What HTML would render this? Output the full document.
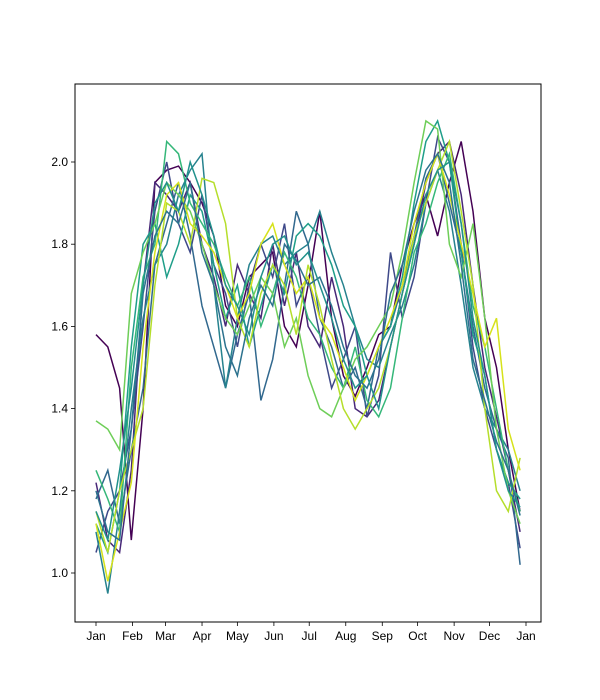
<!DOCTYPE html>
<html><head><meta charset="utf-8"><style>
html,body{margin:0;padding:0;background:#fff;}
svg{display:block;font-family:"Liberation Sans","DejaVu Sans",sans-serif;}
</style></head><body>
<svg id="chart" width="600" height="700"></svg>
<script>
const days = [0,10,20,30,40,50,60,70,80,90,100,110,120,130,140,150,160,170,180,190,200,210,220,230,240,250,260,270,280,290,300,310,320,330,340,350,360];
const monthLabels = ["Jan","Feb","Mar","Apr","May","Jun","Jul","Aug","Sep","Oct","Nov","Dec","Jan"];
const monthDays = [0,31,59,90,120,151,181,212,243,273,304,334,365];
const yTicks = [1.0,1.2,1.4,1.6,1.8,2.0];
const colors = ["#440154","#482878","#3e4989","#31688e","#26828e","#1f9e89","#35b779","#6ece58","#b5de2b","#d6e21b","#2c728e","#21918c"];
const s1 = [1.58,1.55,1.45,1.08,1.40,1.95,1.98,1.99,1.95,1.90,1.82,1.65,1.60,1.72,1.75,1.78,1.60,1.55,1.70,1.88,1.62,1.48,1.43,1.50,1.58,1.60,1.75,1.85,1.92,1.82,1.95,2.05,1.88,1.62,1.50,1.30,1.15];
const s2 = [1.22,1.08,1.05,1.25,1.70,1.95,1.92,1.88,1.95,1.80,1.72,1.60,1.75,1.68,1.62,1.80,1.65,1.78,1.60,1.55,1.72,1.60,1.40,1.38,1.42,1.55,1.68,1.80,1.95,2.02,2.05,1.92,1.70,1.50,1.38,1.25,1.10];
const s3 = [1.05,1.15,1.20,1.35,1.60,1.88,2.00,1.85,1.78,1.92,1.75,1.68,1.55,1.70,1.80,1.72,1.85,1.65,1.72,1.58,1.45,1.52,1.60,1.38,1.48,1.78,1.62,1.72,1.90,2.06,2.00,1.80,1.55,1.40,1.30,1.22,1.06];
const s4 = [1.18,1.25,1.12,1.30,1.45,1.75,1.85,1.95,1.82,1.65,1.55,1.45,1.58,1.68,1.42,1.52,1.70,1.88,1.80,1.62,1.55,1.45,1.50,1.40,1.55,1.60,1.70,1.82,1.96,2.02,1.90,1.78,1.60,1.45,1.35,1.28,1.02];
const s5 = [1.10,0.95,1.15,1.40,1.62,1.75,1.80,1.92,1.98,2.02,1.70,1.45,1.62,1.75,1.80,1.82,1.75,1.78,1.80,1.88,1.78,1.70,1.60,1.52,1.50,1.58,1.65,1.75,1.90,1.98,1.88,1.70,1.50,1.40,1.35,1.30,1.20];
const s6 = [1.12,1.05,1.20,1.55,1.80,1.85,1.72,1.80,1.92,1.88,1.75,1.62,1.70,1.55,1.65,1.75,1.68,1.82,1.85,1.82,1.75,1.65,1.60,1.48,1.55,1.60,1.72,1.90,2.05,2.10,2.00,1.78,1.58,1.48,1.30,1.22,1.18];
const s7 = [1.25,1.18,1.10,1.50,1.72,1.80,2.05,2.02,1.90,1.85,1.80,1.72,1.65,1.72,1.60,1.68,1.78,1.72,1.62,1.58,1.50,1.45,1.55,1.42,1.38,1.45,1.62,1.78,1.85,1.95,2.02,1.85,1.65,1.55,1.40,1.25,1.15];
const s8 = [1.37,1.35,1.30,1.68,1.78,1.85,1.95,1.92,1.88,1.80,1.70,1.62,1.58,1.65,1.72,1.68,1.55,1.62,1.48,1.40,1.38,1.45,1.52,1.55,1.60,1.65,1.78,1.95,2.10,2.08,1.80,1.72,1.85,1.62,1.35,1.20,1.12];
const s9 = [1.15,1.05,1.20,1.30,1.40,1.70,1.90,1.88,1.80,1.96,1.95,1.85,1.62,1.55,1.68,1.75,1.70,1.58,1.75,1.65,1.52,1.40,1.35,1.40,1.45,1.55,1.68,1.82,1.90,1.98,2.05,1.88,1.70,1.40,1.20,1.15,1.28];
const s10 = [1.12,0.98,1.10,1.22,1.55,1.78,1.92,1.95,1.85,1.82,1.78,1.70,1.62,1.68,1.80,1.85,1.75,1.68,1.72,1.62,1.58,1.50,1.42,1.48,1.55,1.62,1.70,1.85,1.95,2.02,1.92,1.80,1.68,1.55,1.62,1.35,1.25];
const s11 = [1.20,1.10,1.08,1.35,1.68,1.82,1.88,1.85,1.95,1.78,1.70,1.55,1.48,1.62,1.70,1.65,1.80,1.76,1.70,1.72,1.65,1.55,1.48,1.45,1.52,1.68,1.75,1.88,1.98,2.02,1.95,1.75,1.52,1.42,1.32,1.25,1.14];
const s12 = [1.15,1.08,1.25,1.45,1.70,1.90,1.95,1.88,2.00,1.92,1.82,1.70,1.65,1.58,1.72,1.80,1.82,1.75,1.78,1.70,1.62,1.52,1.45,1.48,1.40,1.55,1.68,1.80,1.92,1.98,2.00,1.85,1.62,1.48,1.30,1.20,1.16];
const series = [s1,s2,s3,s4,s5,s6,s7,s8,s9,s10,s11,s12];

const NS = "http://www.w3.org/2000/svg";
const svg = document.getElementById("chart");
const L=75, R=541, T=84, B=622;
function xs(d){ return 96 + d*(430/365); }
function ys(v){ return 162 + (2.0 - v)*411; }
function mk(tag, attrs){ const e=document.createElementNS(NS,tag); for(const k in attrs) e.setAttribute(k,attrs[k]); svg.appendChild(e); return e; }

const clip = document.createElementNS(NS,"clipPath"); clip.setAttribute("id","plotclip");
const cr = document.createElementNS(NS,"rect"); cr.setAttribute("x",L); cr.setAttribute("y",T); cr.setAttribute("width",R-L); cr.setAttribute("height",B-T);
clip.appendChild(cr); svg.appendChild(clip);

series.forEach((s,i)=>{
  const pts = s.map((v,j)=>xs(days[j]).toFixed(1)+","+ys(v).toFixed(1)).join(" ");
  const p = mk("polyline",{points:pts,fill:"none",stroke:colors[i],"stroke-width":1.5,"clip-path":"url(#plotclip)"});
  
  
});

const frame = mk("rect",{x:L,y:T,width:R-L,height:B-T,fill:"none",stroke:"#000","stroke-width":1});



monthDays.forEach((d,i)=>{
  const x=xs(d);
  const t = mk("line",{x1:x,x2:x,y1:B,y2:B+4,stroke:"#000","stroke-width":0.8});
  
  
  const lb = mk("text",{x:x,y:B+18,"text-anchor":"middle","font-size":12,fill:"#000"});
  lb.textContent = monthLabels[i];
  
  
});
yTicks.forEach(v=>{
  const y=ys(v);
  const t = mk("line",{x1:L-4,x2:L,y1:y,y2:y,stroke:"#000","stroke-width":0.8});
  
  
  const lb = mk("text",{x:L-7,y:y+4,"text-anchor":"end","font-size":12,fill:"#000"});
  lb.textContent = v.toFixed(1);
  
  
});
</script>
</body></html>
